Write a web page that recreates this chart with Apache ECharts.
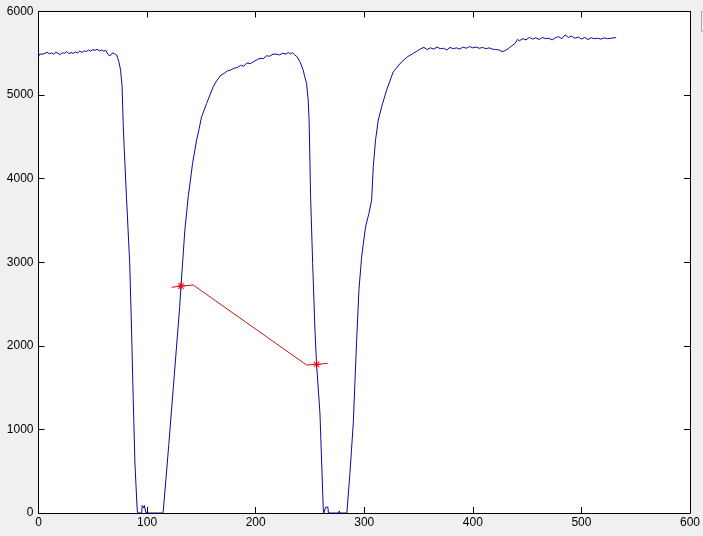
<!DOCTYPE html>
<html>
<head>
<meta charset="utf-8">
<script src="https://cdn.jsdelivr.net/npm/echarts@6/dist/echarts.min.js"></script>
<style>
  html, body { margin: 0; padding: 0; background: #f0f0f0; }
  #chart { width: 703px; height: 536px; }
</style>
</head>
<body>
<div id="chart"></div>
<script>
// blue trace
var traceX = [0, 1, 2, 4, 6, 8, 10, 12, 14, 16, 18, 20, 22, 24, 26, 28, 30, 32, 34, 36, 38, 40,
    42, 44, 46, 48, 50, 52, 54, 56, 58, 60, 62, 64, 66, 68, 70, 72, 73, 74, 75.6, 77, 78, 79,
    81, 84, 85.7, 87.2, 88.8, 90.9, 91.5, 95, 95.5, 96, 97, 97.5, 98.5, 99, 114.5, 115, 120,
    125, 130, 131.2, 134.8, 137.9, 141.9, 145.6, 148, 150.2, 154.8, 160.9, 164, 168, 171, 174,
    177, 180, 183, 186, 189, 192, 195, 198, 201, 204, 207, 210, 213, 216, 219, 222, 225, 228,
    230, 232, 234, 236, 238, 240.8, 242, 243.8, 245, 246.9, 248.4, 249.3, 250.6, 252.5, 254.6,
    256.1, 259.2, 260.8, 262.3, 262.7, 264, 264.5, 265.5, 266.5, 267, 276.5, 277, 277.5, 284,
    284.6, 286.8, 289.9, 293, 295.1, 297.6, 301.2, 304.3, 306.8, 308.3, 310.4, 312.9, 316, 320.6,
    326.7, 334.4, 340, 345.1, 349, 352, 355, 358, 361, 364, 367, 370, 373, 376, 379, 382, 385,
    388, 391, 394, 397, 400, 403, 406, 409, 412, 415, 418, 421, 424, 427, 430, 433, 436, 439,
    441, 443, 446, 449, 452, 455, 458, 461, 464, 467, 470, 473, 476, 479, 482, 485, 488, 491,
    494, 497, 500, 503, 506, 509, 512, 515, 518, 521, 524, 527, 530, 532];
var traceY = [5458, 5490, 5505, 5490, 5500, 5512, 5495, 5505, 5490, 5515, 5498, 5485, 5505, 5500,
    5520, 5495, 5510, 5498, 5515, 5505, 5525, 5510, 5530, 5520, 5540, 5525, 5545, 5535, 5548,
    5530, 5540, 5525, 5535, 5485, 5470, 5505, 5495, 5480, 5440, 5400, 5298, 5100, 4650, 4350,
    3783, 2990, 2189, 1391, 598, 36, 0, 0, 90, 95, 60, 90, 90, 0, 0, 36, 820,
    1640, 2460, 2715, 3385, 3783, 4182, 4461, 4600, 4740, 4900, 5099, 5170, 5238, 5260, 5290,
    5300, 5320, 5330, 5355, 5345, 5385, 5375, 5400, 5420, 5440, 5435, 5470, 5465, 5490, 5490,
    5480, 5500, 5490, 5510, 5495, 5505, 5480, 5460, 5398, 5360, 5298, 5230, 5139, 4939, 4664,
    3783, 2986, 2189, 1778, 1196, 598, 36, 0, 0, 70, 75, 70, 0, 0, 25, 0, 0,
    0, 475, 1073, 2069, 2667, 3065, 3424, 3584, 3743, 4142, 4461, 4700, 4859, 5059,
    5278, 5398, 5460, 5498, 5530, 5555, 5570, 5545, 5565, 5550, 5575, 5555, 5560, 5540, 5570,
    5555, 5565, 5550, 5575, 5560, 5580, 5565, 5575, 5560, 5570, 5555, 5565, 5550, 5545, 5540,
    5520, 5535, 5560, 5590, 5620, 5665, 5650, 5675, 5660, 5690, 5670, 5685, 5665, 5690, 5675,
    5680, 5660, 5685, 5700, 5675, 5720, 5690, 5705, 5680, 5695, 5670, 5690, 5665, 5685, 5675,
    5680, 5670, 5685, 5675, 5680, 5685, 5689];

// red connecting path and its two star points
var pathX = [122.6, 131.2, 142.5, 246.9, 256.1, 266.3];
var pathY = [2700, 2715, 2728, 1770, 1778, 1790];
var starX = [131.2, 256.1];
var starY = [2715, 1778];

var xTicks = { min: 0, max: 600, step: 100 };
var yTicks = { min: 0, max: 6000, step: 1000 };

function pairs(xs, ys) {
    return xs.map(function (x, i) { return [x, ys[i]]; });
}

var labelFont = { fontFamily: 'Liberation Sans', fontSize: 12, color: '#000' };
var lineStyle = { color: '#000', width: 1 };
var starPath = 'path://M0,5L10,5M5,0L5,10M1.5,1.5L8.5,8.5M8.5,1.5L1.5,8.5';

function axis(dim, pos, ticks, labels) {
    return {
        type: 'value',
        position: pos,
        min: ticks.min,
        max: ticks.max,
        interval: ticks.step,
        axisLine: { show: true, lineStyle: lineStyle, onZero: false },
        axisTick: { show: true, inside: true, length: 6, lineStyle: lineStyle },
        axisLabel: Object.assign({
            show: labels,
            margin: dim === 'x' ? 4 : 5,
            formatter: function (v) { return String(v); }
        }, labelFont),
        splitLine: { show: false }
    };
}

var myChart = echarts.init(document.getElementById('chart'));
myChart.setOption({
    backgroundColor: '#f0f0f0',
    animation: false,
    grid: {
        left: 38.5, right: 13, top: 11.5, bottom: 23,
        show: true, backgroundColor: '#fff', borderWidth: 0
    },
    xAxis: [axis('x', 'bottom', xTicks, true), axis('x', 'top', xTicks, false)],
    yAxis: [axis('y', 'left', yTicks, true), axis('y', 'right', yTicks, false)],
    series: [
        {
            type: 'line',
            data: pairs(traceX, traceY),
            showSymbol: false,
            lineStyle: { color: '#0a0a9e', width: 1 },
            z: 2
        },
        {
            type: 'line',
            data: pairs(pathX, pathY),
            showSymbol: false,
            lineStyle: { color: '#c81414', width: 1 },
            z: 3
        },
        {
            type: 'scatter',
            data: pairs(starX, starY),
            symbol: starPath,
            symbolSize: 8,
            itemStyle: { color: 'none', borderColor: '#f00000', borderWidth: 1.2 },
            z: 4
        }
    ],
    graphic: [
        {
            type: 'rect',
            shape: { x: 701.5, y: 11.5, width: 12, height: 20 },
            style: { fill: '#f7f7f7', stroke: '#a8a8a8', lineWidth: 1 }
        }
    ]
});
</script>
</body>
</html>
